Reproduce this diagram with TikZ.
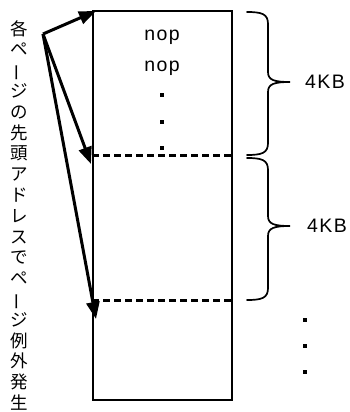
\documentclass[tikz,border=0pt]{standalone}
\usepackage{fontspec}
\setmainfont{Liberation Sans}
\newfontfamily\cjk{Noto Sans CJK JP}
\newfontfamily\lbfont[LetterSpace=7]{Liberation Sans}
\usetikzlibrary{arrows.meta,calc}
\tikzset{
  memline/.style={line width=1.8pt},
  pagedash/.style={line width=3pt, dash pattern=on 7pt off 4pt},
  ptr/.style={line width=3pt, -{Triangle[length=17pt,width=13pt]}},
  bracestyle/.style={line width=1.7pt, line cap=round},
  txt/.style={font=\lbfont\fontsize{19.5}{22}\selectfont, inner sep=0pt},
  dotmark/.style={fill=black, minimum width=3.4pt, minimum height=4pt, inner sep=0pt, rectangle},
}
\newcommand{\vbar}{\rotatebox[origin=c]{90}{ー}}
\newcommand{\kbbr}[3]{%
  \draw[bracestyle] (#1) .. controls +(15,0) and +(0,-10) .. ($(#1)+(21,12)$)
    -- ($(#2)+(-22,-10)$) .. controls +(0,8) and +(-16,0) .. (#2)
    .. controls +(-16,0) and +(0,-8) .. ($(#2)+(-22,10)$)
    -- ($(#3)+(21,-12)$) .. controls +(0,10) and +(15,0) .. (#3);}
\begin{document}
\begin{tikzpicture}[x=1pt,y=-1pt]
\useasboundingbox (0,0) rectangle (350,412);
% memory block
\node[draw, memline, minimum width=139pt, minimum height=389pt, inner sep=0pt, anchor=north west] (mem) at (92,10) {};
\coordinate (d1l) at (92,155); \coordinate (d1r) at (231,155);
\coordinate (d2l) at (92,300); \coordinate (d2r) at (231,300);
\draw[pagedash] (d1l) -- (d1r);
\draw[pagedash] (d2l) -- (d2r);
% contents
\node[txt] (nop1) at (162,37) {nop};
\node[txt] (nop2) at (162,68) {nop};
\node[dotmark] (i1) at (162,95) {};
\node[dotmark] (i2) at (162,122) {};
\node[dotmark] (i3) at (162,148) {};
% braces
\coordinate (b1t) at (247,12); \coordinate (b1m) at (290,82); \coordinate (b1b) at (247,155);
\coordinate (b2t) at (247,158); \coordinate (b2m) at (290,226); \coordinate (b2b) at (247,300);
\kbbr{b1t}{b1m}{b1b}
\kbbr{b2t}{b2m}{b2b}
\node[txt, anchor=west] (kb1) at (305,82) {4KB};
\node[txt, anchor=west] (kb2) at (307,226) {4KB};
% right dots
\node[dotmark] (r1) at (305,320) {};
\node[dotmark] (r2) at (305,346) {};
\node[dotmark] (r3) at (305,372) {};
% vertical label
\node[align=center, inner sep=0pt, anchor=north, font=\cjk\fontsize{17.5}{20.8}\selectfont] (lbl) at (19.5,20)
 {各\\ペ\\\vbar\\ジ\\の\\先\\頭\\ア\\ド\\レ\\ス\\で\\ペ\\\vbar\\ジ\\例\\外\\発\\生};
% arrows
\coordinate (src) at (43,34);
\coordinate (t1) at (96,11);
\coordinate (t2) at (91,164);
\coordinate (t3) at (96,319);
\draw[ptr] (src) -- (t1);
\draw[ptr] (src) -- (t2);
\draw[ptr] (src) -- (t3);
\end{tikzpicture}
\end{document}
